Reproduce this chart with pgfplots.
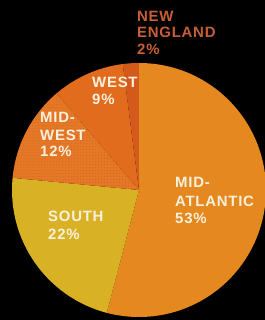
\documentclass[border=0pt]{standalone}
\usepackage{fontspec}
\setmainfont{Liberation Sans}
\usepackage{pgfplots}
\usepackage{pgfplotstable}
\pgfplotsset{compat=1.18}
\usetikzlibrary{patterns}
\definecolor{cMA}{HTML}{E4881F}
\definecolor{cSO}{HTML}{D9B124}
\definecolor{cMW}{HTML}{E47826}
\definecolor{cMWd}{HTML}{D6631F}
\definecolor{cWE}{HTML}{E26C1E}
\definecolor{cNE}{HTML}{D45A1C}
\definecolor{ctxt}{HTML}{FAF0DE}
\definecolor{cnet}{HTML}{C85E36}
\pgfplotstableread{
region value
MidAtlantic 53
South 22
Midwest 12
West 9
NewEngland 2
}\pietable
\newcommand\slice[3]{\fill[#3] (axis cs:139,130) -- (axis cs:{139+127*cos(#1)},{130+127*sin(#1)}) arc[start angle=#1,end angle=#2,radius=127bp] -- cycle;}
\newcommand\lbl[4][ctxt]{\node[anchor=base west,inner sep=0pt,text=#1,font=\bfseries\fontsize{15}{15}\selectfont\addfontfeature{LetterSpace=5}] at (#2bp,#3bp) {#4};}
\begin{document}
\begin{tikzpicture}
\fill[black] (0,0) rectangle (265bp,320bp);
\pgfplotstablegetelem{0}{value}\of\pietable \let\vA\pgfplotsretval
\pgfplotstablegetelem{1}{value}\of\pietable \let\vB\pgfplotsretval
\pgfplotstablegetelem{2}{value}\of\pietable \let\vC\pgfplotsretval
\pgfplotstablegetelem{3}{value}\of\pietable \let\vD\pgfplotsretval
\pgfplotstablegetelem{4}{value}\of\pietable \let\vE\pgfplotsretval
\pgfmathsetmacro\tot{\vA+\vB+\vC+\vD+\vE}
\pgfmathsetmacro\aA{90}
\pgfmathsetmacro\aB{\aA-360*(\vA/\tot)}
\pgfmathsetmacro\aC{\aB-360*(\vB/\tot)}
\pgfmathsetmacro\aD{\aC-360*(\vC/\tot)}
\pgfmathsetmacro\aE{\aD-360*(\vD/\tot)}
\pgfmathsetmacro\aF{\aE-360*(\vE/\tot)}
\begin{axis}[at={(0,0)},anchor=south west,width=265bp,height=320bp,scale only axis,
  xmin=0,xmax=265,ymin=0,ymax=320,hide axis,clip=false]
\slice{\aA}{\aB}{cMA}
\slice{\aB}{\aC}{cSO}
\slice{\aC}{\aD}{cMW}
\slice{\aC}{\aD}{pattern=dots,pattern color=cMWd}
\slice{\aD}{\aE}{cWE}
\slice{\aE}{\aF}{cNE}
\end{axis}
\lbl[cnet]{137}{298}{NEW}
\lbl[cnet]{137}{282}{ENGLAND}
\lbl[cnet]{137}{265}{2\%}
\lbl{92}{232}{WEST}
\lbl{92}{215}{9\%}
\lbl{40}{197}{MID-}
\lbl{40}{179}{WEST}
\lbl{40}{163}{12\%}
\lbl{48}{98}{SOUTH}
\lbl{48}{80}{22\%}
\lbl{175}{132}{MID-}
\lbl{175}{113}{ATLANTIC}
\lbl{175}{96}{53\%}
\pgfresetboundingbox
\path (0,0) rectangle (265bp,320bp);
\end{tikzpicture}
\end{document}
